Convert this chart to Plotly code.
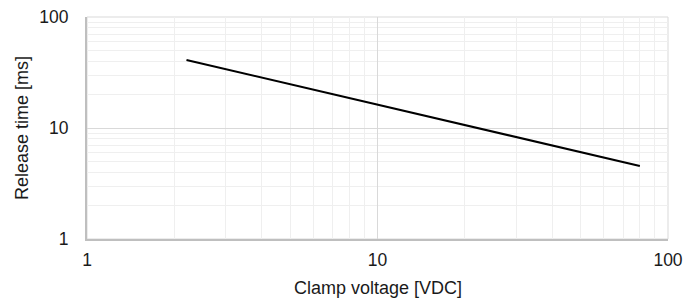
import plotly.graph_objects as go

clamp_voltage = [2.2, 10, 80]
release_time = [41, 16.2, 4.55]

x_title = "Clamp voltage [VDC]"
y_title = "Release time [ms]"

FAMILY = "Liberation Sans, Arial, sans-serif"
tick_font = dict(family=FAMILY, size=17.5, color="#1a1a1a")
title_font = dict(family=FAMILY, size=18, color="#1a1a1a")

# the page body has an 8px default margin; size the figure to fit the window
BODY = 8
W, H = 691 - BODY, 298 - BODY
L, R, T, B = 87 - BODY, 23, 17 - BODY, 59

fig = go.Figure()
fig.add_trace(go.Scatter(x=clamp_voltage, y=release_time, mode="lines",
                         line=dict(color="#000000", width=2), showlegend=False))

axis_common = dict(
    type="log", range=[0, 2], dtick=1,
    showgrid=True, gridcolor="#d9d9d9", gridwidth=1,
    minor=dict(dtick="D1", showgrid=True, gridcolor="#efefef", gridwidth=1, ticks=""),
    showline=True, linecolor="#bfbfbf", linewidth=2,
    ticks="", zeroline=False, tickfont=tick_font,
    automargin=False, ticklabeloverflow="allow",
)

fig.update_xaxes(**axis_common, ticklabelstandoff=4)
fig.update_yaxes(**axis_common, ticklabelstandoff=13)

fig.add_shape(type="rect", xref="paper", yref="paper", x0=0, x1=1, y0=0, y1=1,
              line=dict(color="#d9d9d9", width=1), layer="below")

plot_w = W - L - R
plot_h = H - T - B
fig.add_annotation(text=x_title, xref="paper", yref="paper", x=0.5,
                   y=-(288 - 239) / plot_h, xanchor="center", yanchor="middle",
                   showarrow=False, font=title_font)
fig.add_annotation(text=y_title, xref="paper", yref="paper",
                   x=-(87 - 22) / plot_w, y=0.5, xanchor="center", yanchor="middle",
                   textangle=-90, showarrow=False, font=title_font)

fig.update_layout(
    width=W, height=H,
    margin=dict(l=L, r=R, t=T, b=B),
    plot_bgcolor="white", paper_bgcolor="white",
    font=tick_font,
)

fig.write_html("out.html")
